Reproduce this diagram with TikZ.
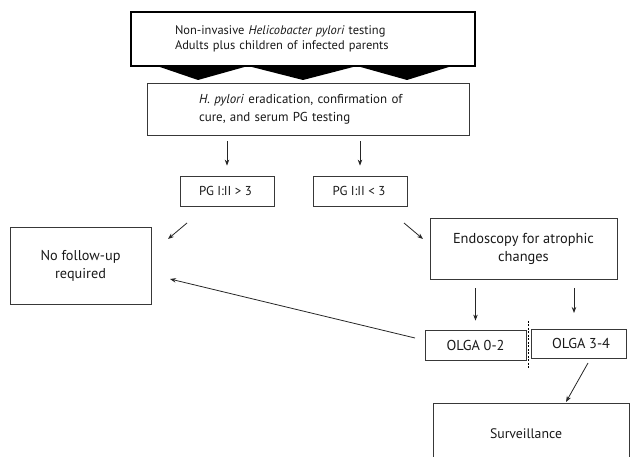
\documentclass[tikz,border=0pt]{standalone}
\usepackage{fontspec}
\setmainfont{PT Sans}
\usetikzlibrary{arrows.meta}
\newlength\fitlen
\newcommand\mkfit[3]{\settowidth\fitlen{\normalfont\fontsize{10}{12}\selectfont #3}\pgfmathsetmacro#1{10*#2/\fitlen}\global\let#1#1}
\AtBeginDocument{%
\mkfit\szTop{208}{Non-invasive \textit{Helicobacter pylori} testing}%
\mkfit\szErad{200}{\textit{H. pylori} eradication, confirmation of}%
\mkfit\szEndo{141}{Endoscopy for atrophic}%
\mkfit\szNofu{80}{No follow-up}%
\mkfit\szSurv{72}{Surveillance}%
\mkfit\szPG{53}{PG I:II > 3}%
\mkfit\szOlga{58}{OLGA 0-2}%
}
\begin{document}
\begin{tikzpicture}[x=1pt,y=-1pt,
  box/.style={draw=black!78, line width=0.8pt, inner sep=0pt, text=black!90},
  arr/.style={draw=black!85, line width=0.8pt, -{Stealth[length=6pt,width=4.5pt]}},
]
\useasboundingbox (0,0) rectangle (630,457);
\clip (0,0) rectangle (630,457);

% top box
\node[box, draw=black, line width=1.8pt, minimum height=54pt, text width=256pt, inner xsep=44pt, align=left,
      font=\fontsize{\szTop}{16}\selectfont] (top) at (303,39)
  {\raisebox{2pt}{\begin{tabular}{@{}l@{}}Non-invasive \textit{Helicobacter pylori} testing\\[-1pt]Adults plus children of infected parents\end{tabular}}};
\fill[black] (157,66) -- (198,80) -- (248,66) -- (303,80) -- (357,66) -- (407,80) -- (452,66) -- cycle;

% second box
\node[box, minimum height=52pt, text width=218pt, inner xsep=52pt, align=left,
      font=\fontsize{\szErad}{18}\selectfont] (erad) at (308,109)
  {\textit{H. pylori} eradication, confirmation of\\cure, and serum PG testing};

% PG boxes
\node[box, minimum width=94pt, minimum height=30pt, font=\fontsize{\szPG}{13}\selectfont] (pghi) at (227,191) {\raisebox{-1.5pt}{PG I:II > 3}\hspace*{3pt}};
\node[box, minimum width=94pt, minimum height=30pt, font=\fontsize{\szPG}{13}\selectfont] (pglo) at (360,191) {\raisebox{-1.5pt}{PG I:II < 3}\hspace*{2pt}};

% No follow-up
\node[box, minimum width=141pt, minimum height=77pt, font=\fontsize{\szNofu}{18}\selectfont] (nofu) at (80.5,265.5)
  {\raisebox{-2.5pt}{\begin{tabular}{@{}c@{}}No follow-up\\required\end{tabular}}\hspace{16pt}};

% Endoscopy
\node[box, minimum width=187pt, minimum height=61pt, font=\fontsize{\szEndo}{18}\selectfont] (endo) at (523.5,248.5)
  {\begin{tabular}{@{}c@{}}Endoscopy for atrophic\\changes\end{tabular}\hspace{20pt}};

% OLGA
\node[box, minimum width=101pt, minimum height=30pt, font=\fontsize{\szOlga}{13}\selectfont] (olga1) at (475.5,345) {OLGA 0-2};
\node[box, minimum width=95pt, minimum height=29pt, font=\fontsize{\szOlga}{13}\selectfont] (olga2) at (578.5,343.5) {\hspace*{5pt}OLGA 3-4};
\draw[black, line width=0.6pt, dash pattern=on 2pt off 1.5pt] (528,321) -- (528,368);

% Surveillance
\node[box, minimum width=196pt, minimum height=62pt, font=\fontsize{\szSurv}{18}\selectfont] (surv) at (531,434) {Surveillance\hspace*{10pt}};

% arrows
\draw[arr, shorten <=6pt, shorten >=10pt] (erad.south -| pghi) -- (pghi.north);
\draw[arr, shorten <=6pt, shorten >=10pt] (erad.south -| pglo) -- (pglo.north);

\coordinate (a1s) at (187,223); \coordinate (a1e) at (168,239);
\coordinate (a2s) at (404,223); \coordinate (a2e) at (423,239);
\draw[arr] (a1s) -- (a1e);
\draw[arr] (a2s) -- (a2e);

\draw[arr, shorten <=9pt, shorten >=9pt] (endo.south -| olga1) -- (olga1.north);
\coordinate (e2) at (574,279); \coordinate (o2) at (574,322);
\draw[arr, shorten <=9pt, shorten >=9pt] (e2) -- (o2);

\coordinate (ls) at (415,338); \coordinate (le) at (170,279);
\draw[arr] (ls) -- (le);

\coordinate (ss) at (588,363); \coordinate (se) at (566,402);
\draw[arr] (ss) -- (se);
\end{tikzpicture}
\end{document}
